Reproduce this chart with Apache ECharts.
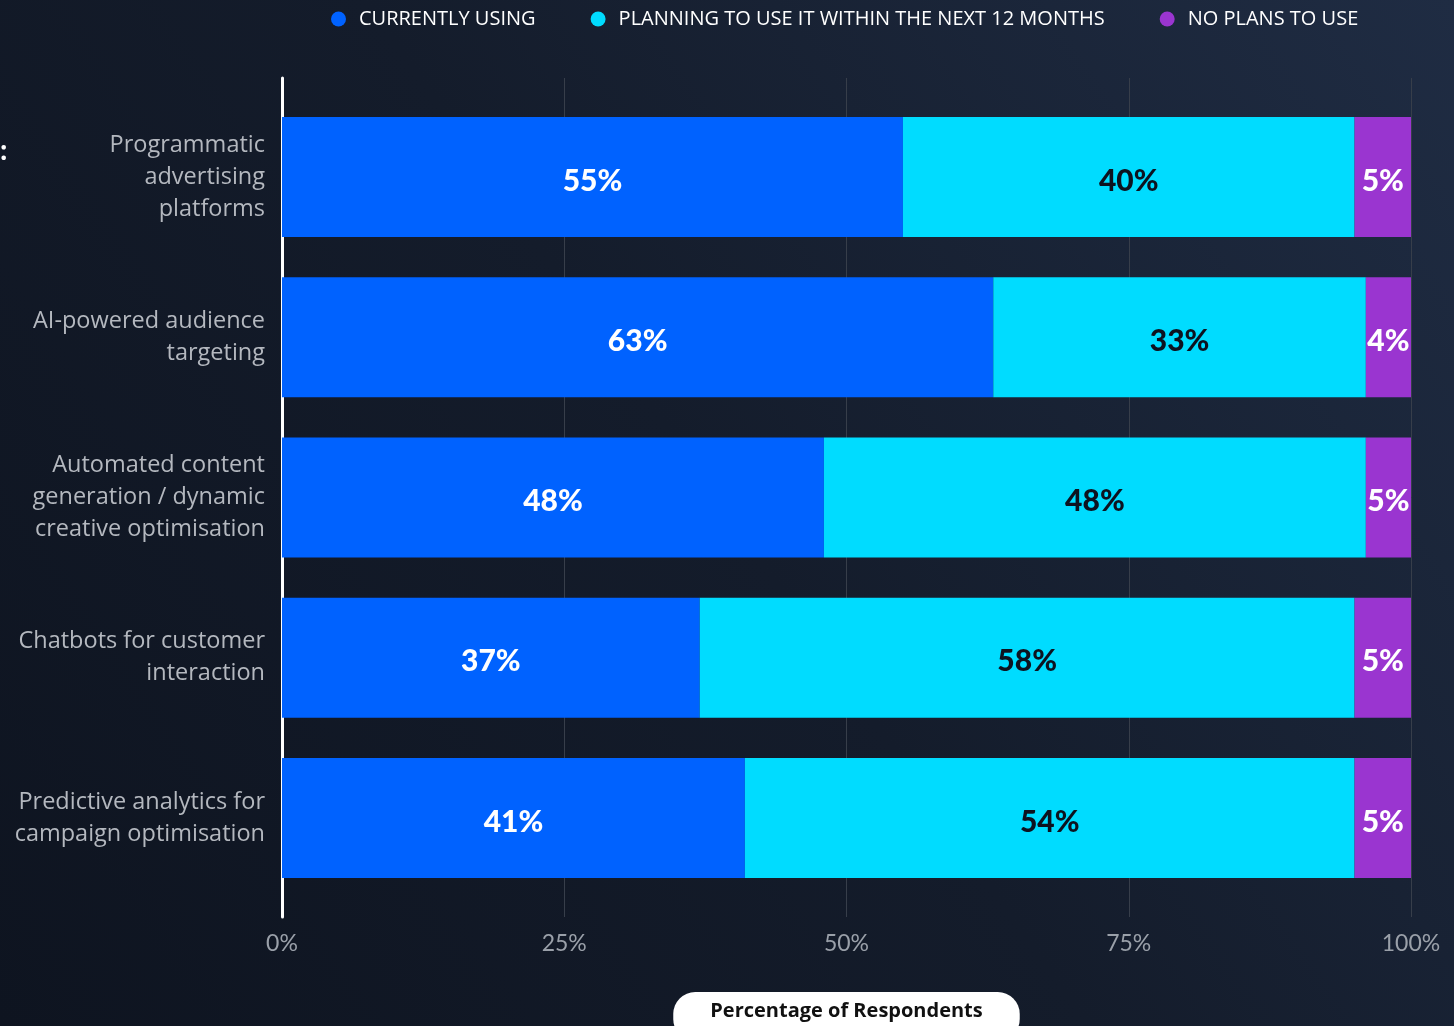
<!DOCTYPE html>
<html>
<head>
<meta charset="utf-8">
<title>AI tools adoption</title>
<script src="https://cdn.jsdelivr.net/npm/echarts@6/dist/echarts.min.js"></script>
<style>
  html, body { margin: 0; padding: 0; background: #121a28; }
  #chart { width: 1454px; height: 1026px; }
</style>
</head>
<body>
<div id="chart"></div>
<script>
// Survey responses per marketing AI use case (percent of respondents)
const categories = [
  'Programmatic\nadvertising\nplatforms',
  'AI-powered audience\ntargeting',
  'Automated content\ngeneration / dynamic\ncreative optimisation',
  'Chatbots for customer\ninteraction',
  'Predictive analytics for\ncampaign optimisation'
];
const seriesNames = [
  'CURRENTLY USING',
  'PLANNING TO USE IT WITHIN THE NEXT 12 MONTHS',
  'NO PLANS TO USE'
];
const currentlyUsing = [55, 63, 48, 37, 41];
const planningToUse = [40, 33, 48, 58, 54];
const noPlans = [5, 4, 5, 5, 5];
const xTicks = [0, 25, 50, 75, 100];
const axisTitle = 'Percentage of Respondents';

const colors = ['#0062ff', '#00dcff', '#9a35d0'];
const labelColors = ['#ffffff', '#0d1320', '#ffffff'];
const seriesData = [currentlyUsing, planningToUse, noPlans];

const chart = echarts.init(document.getElementById('chart'));

const series = seriesNames.map((name, i) => ({
  name: name,
  type: 'bar',
  stack: 'total',
  xAxisIndex: 1,
  yAxisIndex: 1,
  barWidth: 120,
  data: seriesData[i],
  itemStyle: { color: colors[i] },
  label: {
    show: true,
    position: 'inside',
    formatter: '{c}%',
    color: labelColors[i],
    fontFamily: 'Lato',
    fontWeight: 900,
    fontSize: 30,
    offset: [0, 4]
  },
  emphasis: { disabled: true }
}));

chart.setOption({
  backgroundColor: {
    type: 'linear', x: 0, y: 1, x2: 1, y2: 0,
    colorStops: [
      { offset: 0, color: '#0e1420' },
      { offset: 0.5, color: '#141c2b' },
      { offset: 1, color: '#1f2c43' }
    ]
  },
  animation: false,
  color: colors,
  legend: {
    left: 326,
    top: 4,
    icon: 'circle',
    itemWidth: 15,
    itemHeight: 15,
    itemGap: 55,
    data: seriesNames,
    textStyle: {
      color: '#ffffff',
      fontFamily: 'Open Sans',
      fontSize: 20,
      padding: [0, 0, 0, 8]
    }
  },
  graphic: [{
    type: 'text',
    left: 0,
    top: 140,
    style: { text: ':', fill: '#ffffff', font: 'bold 26px "Open Sans"' }
  }],
  grid: [
    { left: 282, right: 43, top: 78, bottom: 109, outerBoundsMode: 'none', containLabel: false },
    { left: 282, right: 43, top: 97, bottom: 128, outerBoundsMode: 'none', containLabel: false }
  ],
  xAxis: [
    {
      gridIndex: 0,
      type: 'value',
      min: xTicks[0],
      max: xTicks[xTicks.length - 1],
      interval: xTicks[1] - xTicks[0],
      axisLine: { show: false },
      axisTick: { show: false },
      splitLine: { show: true, lineStyle: { color: '#373e4a', width: 1 } },
      axisLabel: {
        formatter: '{value}%',
        color: '#9aa0a9',
        fontFamily: 'Lato',
        fontSize: 23,
        margin: 15
      },
      name: axisTitle,
      nameLocation: 'middle',
      nameGap: 75,
      nameTextStyle: {
        color: '#111111',
        fontFamily: 'Open Sans',
        fontWeight: 'bold',
        fontSize: 20,
        backgroundColor: '#ffffff',
        borderRadius: 22,
        padding: [9, 37, 20, 37]
      }
    },
    {
      gridIndex: 1,
      type: 'value',
      min: 0,
      max: 100,
      show: false
    }
  ],
  yAxis: [
    {
      gridIndex: 0,
      type: 'value',
      axisLine: { show: true, lineStyle: { color: '#ffffff', width: 3 } },
      axisTick: { show: false },
      axisLabel: { show: false },
      splitLine: { show: false }
    },
    {
      gridIndex: 1,
      type: 'category',
      inverse: true,
      data: categories,
      axisLine: { show: false },
      axisTick: { show: false },
      axisLabel: {
        color: '#b4b8bf',
        fontFamily: 'Open Sans',
        fontSize: 23.5,
        lineHeight: 32,
        align: 'right',
        verticalAlign: 'middle',
        margin: 17,
        padding: [6, 0, 0, 0]
      }
    }
  ],
  series: series
});
</script>
</body>
</html>
